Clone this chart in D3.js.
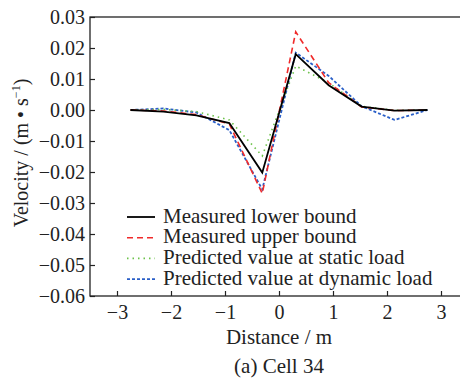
<!DOCTYPE html>
<html>
<head>
<meta charset="utf-8">
<script src="https://cdn.jsdelivr.net/npm/d3@7"></script>
<style>
  body { margin: 0; background: #fff; }
  svg text { font-family: "Liberation Serif", "Times New Roman", "DejaVu Serif", serif !important; }
</style>
</head>
<body>
<div id="chart"></div>
<script>
const width = 460;
const height = 379;

// distance positions (m)
const distances = [-2.75, -2.14, -1.53, -0.92, -0.31, 0.31, 0.92, 1.53, 2.14, 2.75];

// series values (m/s)
const measuredLower = [0, -0.0005, -0.0017, -0.0042, -0.0202, 0.0180, 0.0080, 0.0011, -0.0002, 0];
const measuredUpper = [0, -0.0003, -0.0015, -0.0045, -0.0269, 0.0252, 0.0088, 0.0010, -0.0002, 0];
const predictedStatic = [0, 0.0002, -0.0005, -0.0032, -0.0148, 0.0142, 0.0088, 0.0012, -0.0001, 0];
const predictedDynamic = [0, 0.0005, -0.0008, -0.0065, -0.0256, 0.0185, 0.0110, 0.0012, -0.0032, 0];

const xTicks = [-3, -2, -1, 0, 1, 2, 3];
const yTicks = [0.03, 0.02, 0.01, 0.00, -0.01, -0.02, -0.03, -0.04, -0.05, -0.06];

const seriesNames = ["Measured lower bound", "Measured upper bound",
                     "Predicted value at static load", "Predicted value at dynamic load"];

const series = [
  { name: seriesNames[0], values: measuredLower, color: "#000", dash: null, width: 1.8 },
  { name: seriesNames[1], values: measuredUpper, color: "#f02a2a", dash: "6,4", width: 1.6 },
  { name: seriesNames[2], values: predictedStatic, color: "#6cc24a", dash: "1.5,4", width: 1.6 },
  { name: seriesNames[3], values: predictedDynamic, color: "#2a5fc8", dash: "3,2", width: 1.8 }
];

const margin = { left: 90, top: 17, right: -8, bottom: 83 };

const x = d3.scaleLinear().domain([-3.5, 3.5]).range([margin.left, width - margin.right]);
const y = d3.scaleLinear().domain([-0.06, 0.03]).range([height - margin.bottom, margin.top]);

const svg = d3.select("#chart").append("svg")
  .attr("width", width)
  .attr("height", height);

// frame
svg.append("rect")
  .attr("x", x(-3.5))
  .attr("y", y(0.03))
  .attr("width", x(3.5) - x(-3.5))
  .attr("height", y(-0.06) - y(0.03))
  .attr("fill", "none")
  .attr("stroke", "#222")
  .attr("stroke-width", 1.3);

// axes with inward ticks
const xAxis = svg.append("g")
  .attr("transform", `translate(0,${y(-0.06)})`)
  .call(d3.axisBottom(x).tickValues(xTicks).tickSizeInner(-5).tickSizeOuter(0)
    .tickPadding(9).tickFormat(d => d < 0 ? "\u2212" + Math.abs(d) : d));
xAxis.select(".domain").remove();

const yAxis = svg.append("g")
  .attr("transform", `translate(${x(-3.5)},0)`)
  .call(d3.axisLeft(y).tickValues(yTicks).tickSizeInner(-5).tickSizeOuter(0)
    .tickPadding(5).tickFormat(d => {
      const s = Math.abs(d).toFixed(2);
      return d < -1e-9 ? "\u2212" + s : s;
    }));
yAxis.select(".domain").remove();

svg.selectAll(".tick line").attr("stroke", "#222").attr("stroke-width", 1.2);
svg.selectAll(".tick text").attr("font-size", 20).attr("fill", "#222");

// lines
const line = d3.line()
  .x((d, i) => x(distances[i]))
  .y(d => y(d));

series.slice().reverse().forEach(s => {
  svg.append("path")
    .datum(s.values)
    .attr("d", line)
    .attr("fill", "none")
    .attr("stroke", s.color)
    .attr("stroke-width", s.width)
    .attr("stroke-dasharray", s.dash);
});

// legend
const legend = svg.append("g").attr("transform", "translate(127,217)");
series.forEach((s, i) => {
  const g = legend.append("g").attr("transform", `translate(0,${i * 20.7})`);
  g.append("line")
    .attr("x1", 0).attr("x2", 28)
    .attr("y1", 0).attr("y2", 0)
    .attr("stroke", s.color)
    .attr("stroke-width", s.width)
    .attr("stroke-dasharray", s.dash);
  g.append("text")
    .attr("x", 36).attr("y", 5.5)
    .attr("font-size", 21)
    .attr("fill", "#222")
    .text(s.name);
});

// axis titles
svg.append("text")
  .attr("x", x(0)).attr("y", 344)
  .attr("text-anchor", "middle")
  .attr("font-size", 21)
  .attr("fill", "#222")
  .text("Distance / m");

svg.append("text")
  .attr("x", x(0)).attr("y", 373)
  .attr("text-anchor", "middle")
  .attr("font-size", 21)
  .attr("fill", "#222")
  .text("(a) Cell 34");

const yTitle = svg.append("text")
  .attr("transform", "translate(28,153) rotate(-90)")
  .attr("text-anchor", "middle")
  .attr("font-size", 20)
  .attr("fill", "#222");
yTitle.append("tspan").text("Velocity / (m \u2022 s");
yTitle.append("tspan").attr("font-size", 12).attr("dy", -8).text("\u22121");
yTitle.append("tspan").attr("dy", 8).text(")");
</script>
</body>
</html>
